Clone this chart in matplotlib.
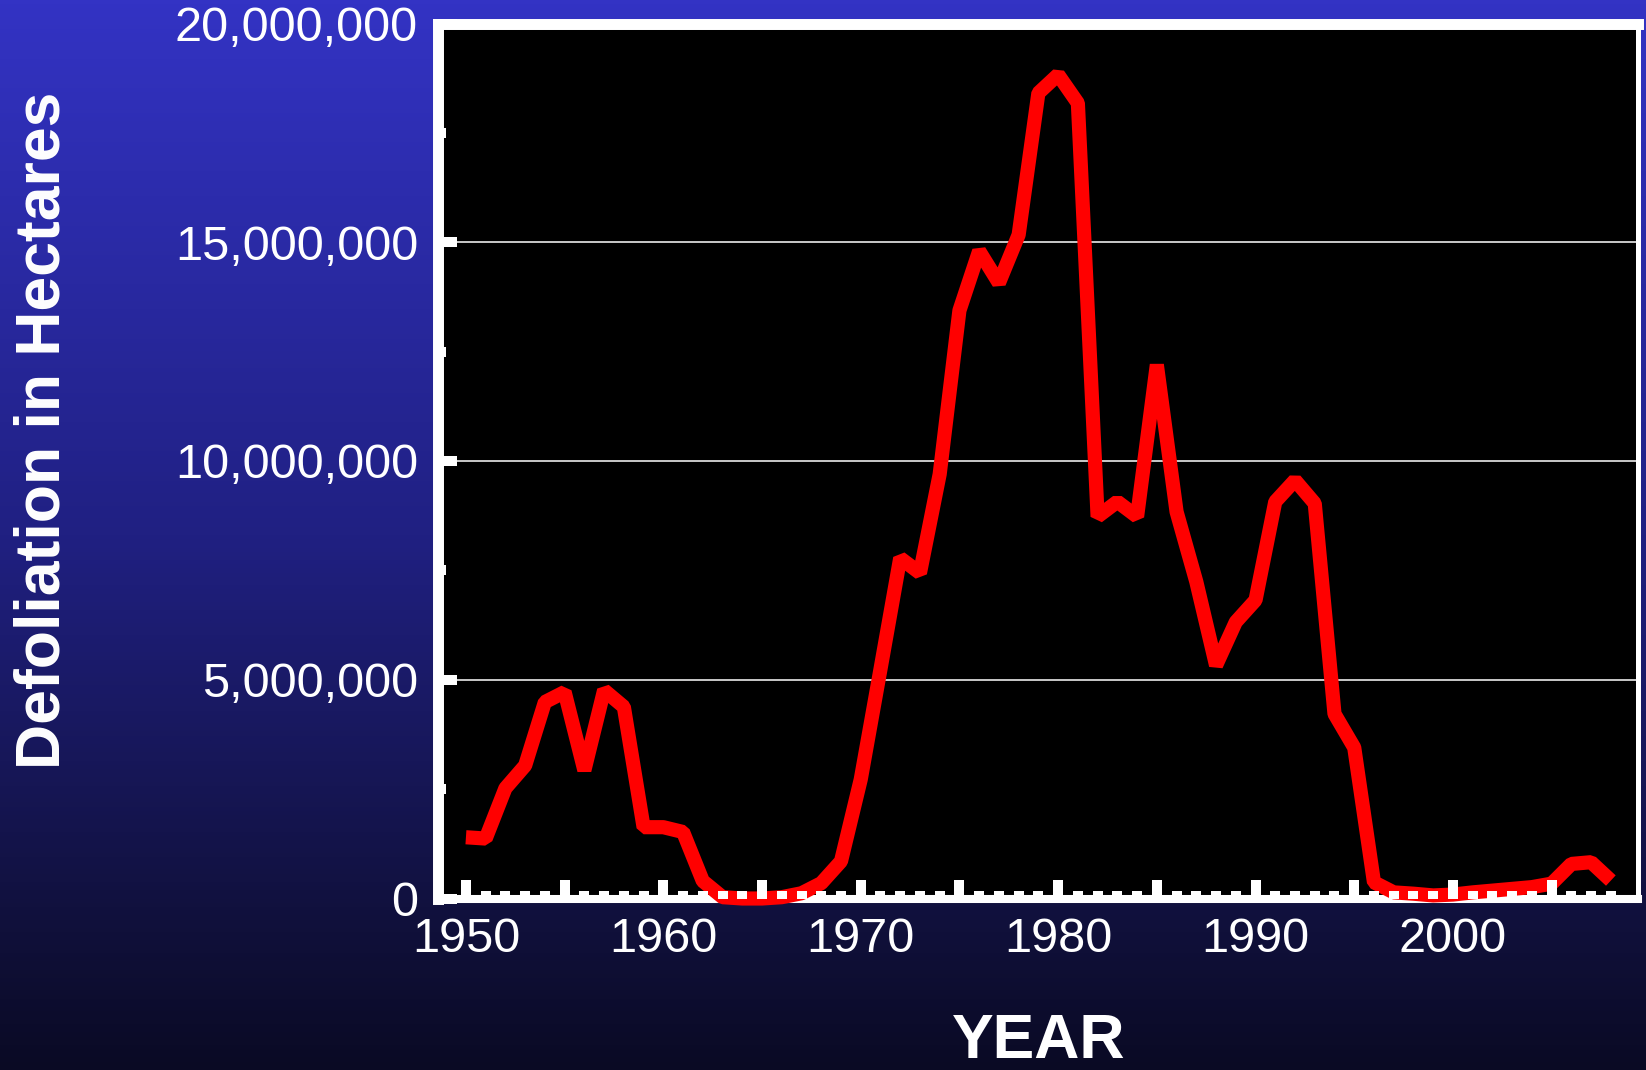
import matplotlib.pyplot as plt
from matplotlib.colors import LinearSegmentedColormap
from matplotlib.ticker import FixedLocator, FuncFormatter
import numpy as np

plt.rcParams['font.family'] = ['Liberation Sans', 'DejaVu Sans']

# annual defoliation, hectares
years = list(range(1950, 2009))
defoliation = [
    1400000, 1370000, 2520000, 3040000, 4490000, 4720000, 2930000, 4760000,
    4380000, 1630000, 1630000, 1520000, 400000, 30000, 0, 0,
    30000, 120000, 350000, 850000, 2720000, 5240000, 7780000, 7440000,
    9700000, 13440000, 14800000, 14070000, 15170000, 18410000, 18830000, 18180000,
    8730000, 9070000, 8730000, 12200000, 8840000, 7240000, 5330000, 6320000,
    6820000, 9070000, 9560000, 9030000, 4220000, 3450000, 370000, 140000,
    110000, 70000, 90000, 140000, 180000, 220000, 260000, 340000,
    790000, 830000, 410000,
]

y_major = [0, 5000000, 10000000, 15000000, 20000000]
y_minor = [2500000, 7500000, 12500000, 17500000]
x_major = list(range(1950, 2006, 5))
x_minor = [y for y in years if y not in x_major]

W, H = 1646, 1070
fig = plt.figure(figsize=(W / 100, H / 100), dpi=100)

# blue backdrop fading to navy
bg = fig.add_axes([0, 0, 1, 1], zorder=-10)
cmap = LinearSegmentedColormap.from_list('backdrop', [
    (0.0, (10 / 255, 10 / 255, 36 / 255)),
    (0.15, (17 / 255, 17 / 255, 62 / 255)),
    (0.5, (32 / 255, 32 / 255, 130 / 255)),
    (1.0, (51 / 255, 51 / 255, 196 / 255)),
])
bg.imshow(np.linspace(0, 1, 256).reshape(-1, 1)[::-1], aspect='auto',
          cmap=cmap, extent=[0, 1, 0, 1])
bg.axis('off')

left, right, top, bottom = 437.5, 1637.5, 23.5, 898.5
ax = fig.add_axes([left / W, 1 - bottom / H, (right - left) / W, (bottom - top) / H])
ax.set_facecolor('black')

for y in y_major[1:-1]:
    ax.axhline(y, color='white', lw=1.1, zorder=1)

ax.plot(years, defoliation, color='#ff0000', lw=10.2, solid_joinstyle='bevel',
        solid_capstyle='butt', zorder=2.2, clip_on=False)

ax.set_xlim(1948.56, 2009.35)
ax.set_ylim(0, 20000000)

# every fifth year gets a tall tick, only decades are labelled
ax.xaxis.set_major_locator(FixedLocator(x_major))
ax.xaxis.set_minor_locator(FixedLocator(x_minor))
ax.xaxis.set_major_formatter(FuncFormatter(lambda v, p: f'{int(v)}' if int(v) % 10 == 0 else ''))
ax.yaxis.set_major_locator(FixedLocator(y_major))
ax.yaxis.set_minor_locator(FixedLocator(y_minor))
ax.yaxis.set_major_formatter(FuncFormatter(lambda v, p: f'{int(v):,}'))

ax.tick_params(which='both', direction='in', color='white', width=7.2,
               labelcolor='white', labelsize=35)
ax.tick_params(which='major', length=13.7)
ax.tick_params(which='minor', length=6.0)
ax.tick_params(axis='y', pad=14)
ax.tick_params(axis='x', pad=13)
ax.set_axisbelow(False)

for side, lw in [('left', 7.9), ('top', 7.9), ('bottom', 5.8), ('right', 3.6)]:
    ax.spines[side].set_color('white')
    ax.spines[side].set_linewidth(lw)
    ax.spines[side].set_zorder(2.0)

fig.text(43 / W, 1 - 430 / H, 'Defoliation in Hectares', rotation=90,
         ha='center', va='center', color='white', fontsize=45, fontweight='bold')
fig.text(1039 / W, 1 - 1058 / H, 'YEAR', ha='center', va='baseline',
         color='white', fontsize=45, fontweight='bold')

fig.savefig('out.png', dpi=100)
